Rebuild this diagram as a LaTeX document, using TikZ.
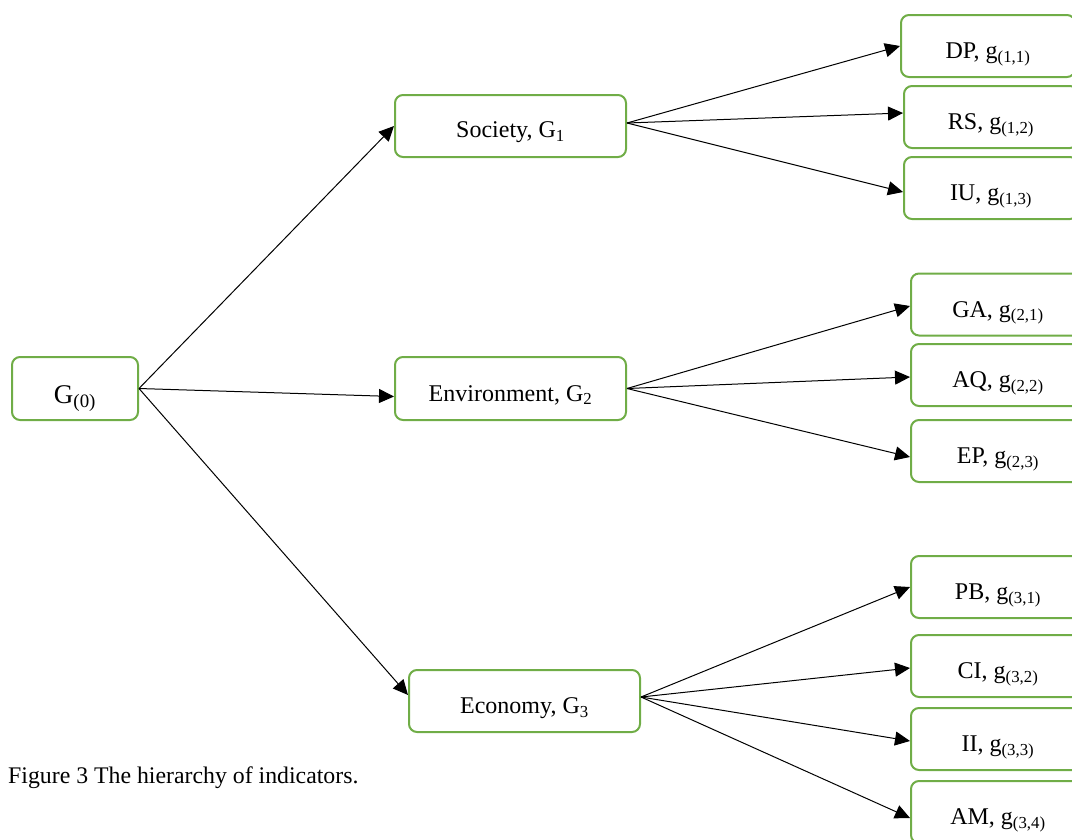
\documentclass[tikz,border=0pt]{standalone}
\usepackage{fontspec}
\setmainfont{Liberation Serif}
\usetikzlibrary{arrows.meta}
\definecolor{boxgreen}{RGB}{112,173,71}
\newcommand{\sbx}[1]{\textsubscript{#1}}
\begin{document}
\begin{tikzpicture}[x=1pt,y=-1pt,
  box/.style={draw=boxgreen, line width=2pt, rounded corners=8pt, inner sep=0pt,
    font=\fontsize{24}{28}\selectfont, text height=25pt, text depth=0pt},
  leaf/.style={box, minimum width=174pt, minimum height=62pt},
  mid/.style={box, minimum width=231pt, minimum height=62pt},
  arr/.style={draw=black, line width=1pt, -{Triangle[length=15pt,width=14pt]}}]
\useasboundingbox (0,0) rectangle (1072,839);
\clip (0,0) rectangle (1072,839);
\node[box, minimum width=126pt, minimum height=63pt, font=\fontsize{27}{31}\selectfont, text height=29pt] (g0) at (75,388.5) {G\sbx{(0)}};
\node[mid, text height=23pt] (soc) at (510.5,126) {Society, G\sbx{1}};
\node[mid, minimum height=63pt] (env) at (510.5,388.5) {Environment, G\sbx{2}};
\node[mid] (eco) at (524.5,701) {Economy, G\sbx{3}};
\node[leaf, anchor=west] (dp) at (900,46) {DP, g\sbx{(1,1)}};
\node[leaf, anchor=west] (rs) at (903,117) {RS, g\sbx{(1,2)}};
\node[leaf, anchor=west] (iu) at (903,188) {IU, g\sbx{(1,3)}};
\node[leaf, anchor=west] (ga) at (910,304.5) {GA, g\sbx{(2,1)}};
\node[leaf, anchor=west] (aq) at (910,375) {AQ, g\sbx{(2,2)}};
\node[leaf, anchor=west] (ep) at (910,451) {EP, g\sbx{(2,3)}};
\node[leaf, anchor=west] (pb) at (910,587) {PB, g\sbx{(3,1)}};
\node[leaf, anchor=west] (ci) at (910,666) {CI, g\sbx{(3,2)}};
\node[leaf, anchor=west] (ii) at (910,739) {II, g\sbx{(3,3)}};
\node[leaf, anchor=west] (am) at (910,812) {AM, g\sbx{(3,4)}};
\node[anchor=base west, inner sep=0pt, font=\fontsize{23.8}{28}\selectfont] (cap) at (8,783) {Figure 3 The hierarchy of indicators.};
\draw[arr] (g0.east) -- (soc.west);
\draw[arr] (g0.east) -- ([yshift=-8pt]env.west);
\draw[arr] (g0.east) -- ([yshift=6pt]eco.west);
\draw[arr] ([yshift=3pt]soc.east) -- (dp.west);
\draw[arr] ([yshift=3pt]soc.east) -- ([yshift=4pt]rs.west);
\draw[arr] ([yshift=3pt]soc.east) -- ([yshift=-4pt]iu.west);
\draw[arr] (env.east) -- ([yshift=-1.5pt]ga.west);
\draw[arr] (env.east) -- ([yshift=-2pt]aq.west);
\draw[arr] (env.east) -- ([yshift=-6pt]ep.west);
\draw[arr] ([yshift=4pt]eco.east) -- (pb.west);
\draw[arr] ([yshift=4pt]eco.east) -- ([yshift=-2pt]ci.west);
\draw[arr] ([yshift=4pt]eco.east) -- ([yshift=-2pt]ii.west);
\draw[arr] ([yshift=4pt]eco.east) -- ([yshift=-6pt]am.west);
\end{tikzpicture}
\end{document}
